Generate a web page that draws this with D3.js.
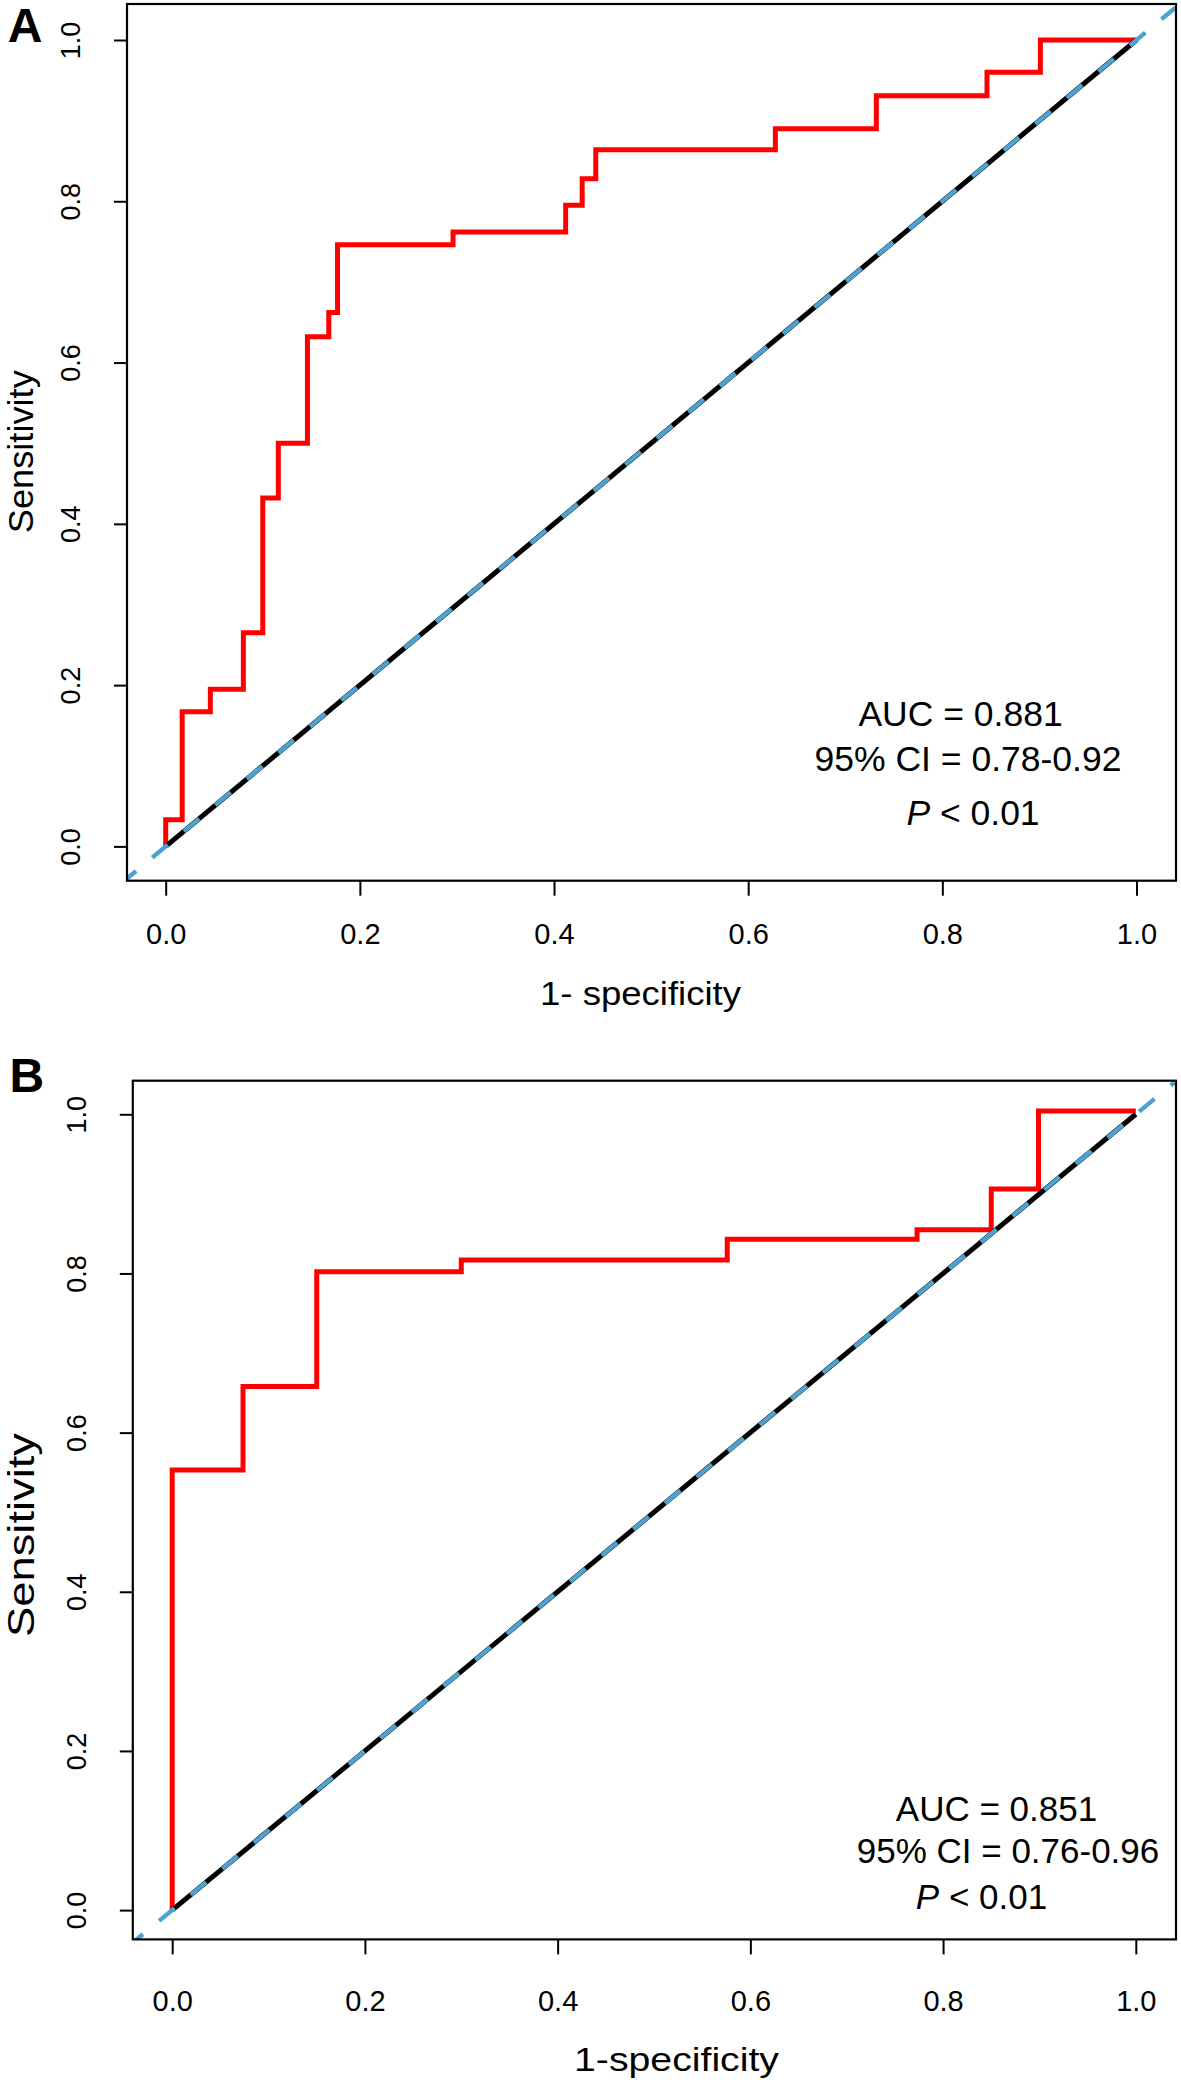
<!DOCTYPE html>
<html><head><meta charset="utf-8">
<script src="https://cdn.jsdelivr.net/npm/d3@7"></script>
<style>
body{margin:0;background:#fff}
svg{display:block}
text{font-family:"Liberation Sans",Arial,Helvetica,sans-serif;fill:#000}
</style>
</head><body>
<svg id="chart" width="1181" height="2086"></svg>
<script>
// ---------- data ----------
const tickValues = [0, 0.2, 0.4, 0.6, 0.8, 1.0];
const tickLabels = ["0.0", "0.2", "0.4", "0.6", "0.8", "1.0"];
const panelLetters = ["A", "B"];
const xTitles = ["1- specificity", "1-specificity"];
const yTitle = "Sensitivity";

// Panel A ROC curve (1-specificity, sensitivity), step corners
const fprA = [0, 0, 0.017, 0.046, 0.080, 0.100, 0.116, 0.146, 0.168, 0.177, 0.296, 0.412, 0.429, 0.443, 0.628, 0.732, 0.846, 0.901, 1.0];
const tprA = [0, 0.033, 0.167, 0.195, 0.265, 0.432, 0.500, 0.632, 0.662, 0.746, 0.762, 0.795, 0.828, 0.864, 0.890, 0.931, 0.960, 1.000, 1.0];
// Panel B ROC curve
const fprB = [0, 0, 0.0735, 0.150, 0.300, 0.576, 0.773, 0.850, 0.899, 1.0];
const tprB = [0, 0.553, 0.658, 0.802, 0.817, 0.843, 0.855, 0.906, 1.004, 1.004];

// chance / reference lines
const chanceLine = [0, 1];          // black solid
const refLine = [-0.04, 1.04];      // blue dashed, corner to corner

const statsA = ["AUC = 0.881", "95% CI = 0.78-0.92", "< 0.01"];
const statsB = ["AUC = 0.851", "95% CI = 0.76-0.96", "< 0.01"];

// ---------- layout ----------
const panels = [
  {
    letter: panelLetters[0], fpr: fprA, tpr: tprA, stats: statsA, xTitle: xTitles[0],
    xr: [165.7, 1136.5], yr: [846.4, 40.0], box: [127, 4, 1176, 880.7],
    xLabOff: 53, yLabX: 70.8, xTitlePos: [640.5, 1005], xTitleSize: 33, xTitleLen: 201,
    yTitlePos: [32.5, 451.7], yTitleSize: 35, yTitleLen: 163, letterPos: [7.7, 41.7],
    statsPos: [[960.5, 726.4], [968, 771], [973, 824.6]], statsSize: 35.5
  },
  {
    letter: panelLetters[1], fpr: fprB, tpr: tprB, stats: statsB, xTitle: xTitles[1],
    xr: [172.2, 1135.8], yr: [1910.1, 1114.3], box: [132.8, 1080.7, 1176, 1939.4],
    xLabOff: 61, yLabX: 77, xTitlePos: [676.5, 2071], xTitleSize: 33, xTitleLen: 205,
    yTitlePos: [34, 1535], yTitleSize: 36, yTitleLen: 204, letterPos: [9.6, 1091.7],
    statsPos: [[996.5, 1821.3], [1008, 1863], [981.5, 1909]], statsSize: 35
  }
];

const svg = d3.select("#chart");
svg.append("rect").attr("width", 1181).attr("height", 2086).attr("fill", "#fff");

panels.forEach((p, pi) => {
  const x = d3.scaleLinear().domain([0, 1]).range(p.xr);
  const y = d3.scaleLinear().domain([0, 1]).range(p.yr);
  const [bx0, by0, bx1, by1] = p.box;
  const g = svg.append("g");

  const clipId = "clip" + pi;
  svg.append("clipPath").attr("id", clipId)
    .append("rect").attr("x", bx0).attr("y", by0).attr("width", bx1 - bx0).attr("height", by1 - by0);

  const plot = g.append("g").attr("clip-path", `url(#${clipId})`);

  // ROC step curve
  const pts = p.fpr.map((f, i) => [f, p.tpr[i]]);
  plot.append("path")
    .attr("d", d3.line().x(d => x(d[0])).y(d => y(d[1])).curve(d3.curveStepAfter)(pts))
    .attr("fill", "none").attr("stroke", "#ff0000").attr("stroke-width", 5)
    .attr("stroke-linejoin", "miter").attr("stroke-linecap", "butt");

  // black diagonal (0,0)-(1,1)
  plot.append("line")
    .attr("x1", x(chanceLine[0])).attr("y1", y(chanceLine[0]))
    .attr("x2", x(chanceLine[1])).attr("y2", y(chanceLine[1]))
    .attr("stroke", "#000").attr("stroke-width", 5);

  // blue dashed reference line
  plot.append("line")
    .attr("x1", x(refLine[0])).attr("y1", y(refLine[0]))
    .attr("x2", x(refLine[1])).attr("y2", y(refLine[1]))
    .attr("stroke", "#4ea2d1").attr("stroke-width", 4.4)
    .attr("stroke-dasharray", "20,21").attr("stroke-dashoffset", 8);

  // box
  g.append("rect").attr("x", bx0).attr("y", by0).attr("width", bx1 - bx0).attr("height", by1 - by0)
    .attr("fill", "none").attr("stroke", "#000").attr("stroke-width", 2.2);

  // x axis
  const xa = g.append("g").attr("transform", `translate(0,${by1})`)
    .call(d3.axisBottom(x).tickValues(tickValues).tickFormat((d, i) => tickLabels[i]).tickSize(15).tickSizeOuter(0));
  xa.select(".domain").remove();
  xa.selectAll(".tick line").attr("stroke", "#000").attr("stroke-width", 2);
  xa.selectAll(".tick text").attr("y", p.xLabOff).attr("dy", "0.35em")
    .style("font-size", "29px").style("font-family", '"Liberation Sans",Arial,sans-serif').attr("fill", "#000");

  // y axis
  const ya = g.append("g").attr("transform", `translate(${bx0},0)`)
    .call(d3.axisLeft(y).tickValues(tickValues).tickFormat((d, i) => tickLabels[i]).tickSize(13).tickSizeOuter(0));
  ya.select(".domain").remove();
  ya.selectAll(".tick line").attr("stroke", "#000").attr("stroke-width", 2);
  ya.selectAll(".tick text").attr("x", 0).attr("y", 0).attr("dy", "0.35em")
    .attr("text-anchor", "middle")
    .attr("transform", `translate(${p.yLabX - bx0},0) rotate(-90)`)
    .style("font-size", "27px").style("font-family", '"Liberation Sans",Arial,sans-serif').attr("fill", "#000");

  // axis titles
  g.append("text").attr("x", p.xTitlePos[0]).attr("y", p.xTitlePos[1])
    .attr("text-anchor", "middle").style("font-size", p.xTitleSize + "px")
    .attr("textLength", p.xTitleLen).attr("lengthAdjust", "spacingAndGlyphs").text(p.xTitle);
  g.append("text").attr("transform", `translate(${p.yTitlePos[0]},${p.yTitlePos[1]}) rotate(-90)`)
    .attr("text-anchor", "middle").style("font-size", p.yTitleSize + "px")
    .attr("textLength", p.yTitleLen).attr("lengthAdjust", "spacingAndGlyphs").text(yTitle);

  // panel letter
  g.append("text").attr("x", p.letterPos[0]).attr("y", p.letterPos[1])
    .style("font-size", "48px").style("font-weight", "bold").text(p.letter);

  // statistics text
  p.stats.forEach((s, i) => {
    const t = g.append("text").attr("x", p.statsPos[i][0]).attr("y", p.statsPos[i][1])
      .attr("text-anchor", "middle").style("font-size", p.statsSize + "px");
    if (i === 2) {
      t.append("tspan").style("font-style", "italic").text("P");
      t.append("tspan").text(" " + s);
    } else {
      t.text(s);
    }
  });
});
</script>
</body></html>
